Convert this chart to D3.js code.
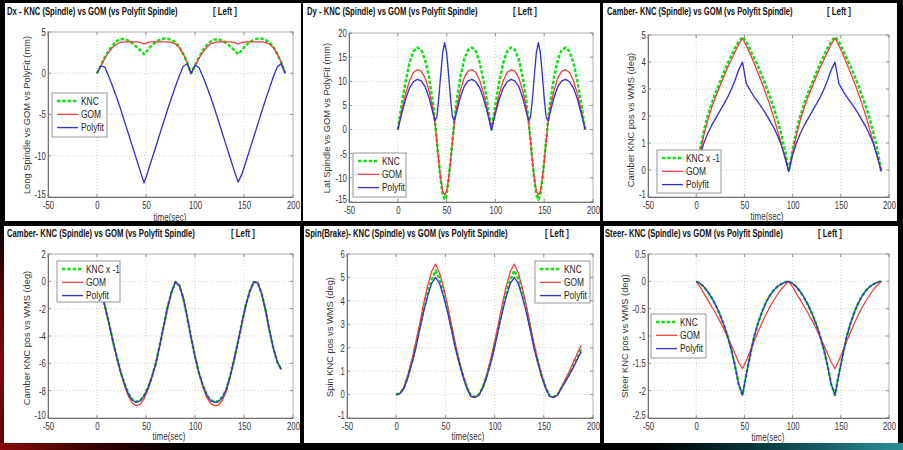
<!DOCTYPE html>
<html><head><meta charset="utf-8">
<script src="https://cdn.jsdelivr.net/npm/d3@7"></script>
<style>body{margin:0;background:#000;overflow:hidden}svg{display:block}</style>
</head><body>
<svg id="c" width="903" height="450"></svg>
<script>
// ---------- DATA ----------
const xTicks = [-50, 0, 50, 100, 150, 200];
const seriesNames = ["KNC", "GOM", "Polyfit"];
const seriesNamesX = ["KNC x -1", "GOM", "Polyfit"];

const time4 = [0,4,8,12,16,20,24,28,32,36,40,44,48,52,56,60,64,68,72,76,80,84,88,92,96,
  100,104,108,112,116,120,124,128,132,136,140,144,148,152,156,160,164,168,172,176,180,184,188,192];
const time188 = [0,4,8,12,16,20,24,28,32,36,40,44,48,52,56,60,64,68,72,76,80,84,88,92,96,
  100,104,108,112,116,120,124,128,132,136,140,144,148,152,156,160,164,168,172,176,180,184,188];
const dyTime = [0,4,8,12,16,20,24,28,32,36,38,40,42,44,46,48,50,52,54,56,58,60,64,68,72,76,80,84,88,92,96,
  100,104,108,112,116,120,124,128,132,134,136,138,140,142,144,146,148,150,152,154,156,160,164,168,172,176,180,184,188,192];

// Dx
const dxYTicks = [-15, -10, -5, 0, 5];
const dxKNC = [0,0.95,1.95,2.75,3.4,3.9,4.15,4.15,3.95,3.65,3.25,2.8,2.3,2.85,3.4,3.8,4.05,4.2,4.2,4.05,3.75,3.2,2.35,1.3,0,
  0.95,1.95,2.75,3.4,3.85,4.1,4.1,3.95,3.65,3.25,2.8,2.3,2.85,3.4,3.8,4.05,4.2,4.2,4.05,3.75,3.2,2.35,1.3,0];
const dxGOM = [0,0.9,1.8,2.55,3.15,3.55,3.75,3.8,3.8,3.8,3.8,3.75,3.55,3.75,3.8,3.8,3.8,3.8,3.8,3.75,3.55,3.1,2.35,1.3,0,
  0.9,1.8,2.55,3.15,3.55,3.75,3.8,3.8,3.8,3.8,3.75,3.55,3.75,3.8,3.8,3.8,3.8,3.8,3.75,3.55,3.1,2.35,1.3,0];
const dxPoly = [0,0.9,0.75,-0.4,-1.6,-2.9,-4.3,-5.8,-7.3,-8.8,-10.3,-11.8,-13.3,-11.9,-10.4,-8.9,-7.4,-5.9,-4.4,-3.0,-1.6,-0.3,0.85,1.15,0,
  0.95,0.7,-0.4,-1.6,-2.9,-4.3,-5.8,-7.3,-8.8,-10.3,-11.8,-13.2,-12.2,-10.7,-9.2,-7.7,-6.2,-4.7,-3.2,-1.8,-0.4,0.8,1.15,0];

// Dy
const dyYTicks = [-15, -10, -5, 0, 5, 10, 15, 20];
const dyKNC = [0,5.2,10,13.8,16.2,17,16.5,14.5,10.8,5.5,1.8,-2.2,-6.5,-10.5,-13.5,-14.5,-13.5,-10.5,-6.5,-2.2,1.8,5.5,10.8,14.5,16.5,17,16.2,13.8,10,5.2,0,
  5.2,10,13.8,16.2,17,16.5,14.5,10.8,5.5,1.8,-2.2,-6.5,-10.5,-13.5,-14.5,-13.5,-10.5,-6.5,-2.2,1.8,5.5,10.8,14.5,16.5,17,16.2,13.8,10,5.2,0];
const dyGOM = [0,3.9,7.4,10.1,11.8,12.4,12.1,10.7,8.0,4.2,1.6,-2.5,-6.8,-10.2,-12.8,-13.5,-12.8,-10.2,-6.8,-2.5,1.6,4.2,8.0,10.7,12.1,12.4,11.8,10.1,7.4,3.9,0,
  3.9,7.4,10.1,11.8,12.4,12.1,10.7,8.0,4.2,1.6,-2.5,-6.8,-10.2,-12.8,-13.5,-12.8,-10.2,-6.8,-2.5,1.6,4.2,8.0,10.7,12.1,12.4,11.8,10.1,7.4,3.9,0];
const dyPoly = [0,3.3,6.3,8.6,9.9,10.4,10.1,8.9,6.6,3.4,1.8,2.6,6.5,11.5,16.0,18.0,16.0,11.5,6.5,2.6,1.8,3.4,6.6,8.9,10.1,10.4,9.9,8.6,6.3,3.3,0,
  3.3,6.3,8.6,9.9,10.4,10.1,8.9,6.6,3.4,1.8,2.6,6.5,11.5,16.0,18.0,16.0,11.5,6.5,2.6,1.8,3.4,6.6,8.9,10.1,10.4,9.9,8.6,6.3,3.3,0];

// Camber (top)
const camYTicks = [-1, 0, 1, 2, 3, 4, 5];
const camKNC = [0,0.75,1.45,2.0,2.45,2.85,3.2,3.55,3.9,4.2,4.5,4.75,4.93,4.75,4.45,4.15,3.85,3.5,3.15,2.75,2.35,1.9,1.35,0.75,-0.05,
  0.75,1.45,2.0,2.45,2.85,3.2,3.55,3.9,4.2,4.5,4.75,4.93,4.75,4.45,4.15,3.85,3.5,3.15,2.75,2.35,1.9,1.35,0.75,-0.05];
const camGOM = [0,0.65,1.3,1.85,2.3,2.7,3.05,3.4,3.75,4.05,4.35,4.65,4.88,4.6,4.3,3.95,3.6,3.25,2.85,2.45,2.0,1.5,1.0,0.45,-0.05,
  0.65,1.3,1.85,2.3,2.7,3.05,3.4,3.75,4.05,4.35,4.65,4.88,4.6,4.3,3.95,3.6,3.25,2.85,2.45,2.0,1.5,1.0,0.45,-0.05];
const camPoly = [0,0.55,1.0,1.35,1.65,1.9,2.15,2.4,2.65,2.95,3.3,3.7,4.0,3.2,2.95,2.72,2.52,2.32,2.1,1.85,1.6,1.3,0.95,0.5,-0.05,
  0.55,1.0,1.35,1.65,1.9,2.15,2.4,2.65,2.95,3.3,3.7,4.0,3.2,2.95,2.72,2.52,2.32,2.1,1.85,1.6,1.3,0.95,0.5,-0.05];

// Camber (bottom)
const cam2YTicks = [-10, -8, -6, -4, -2, 0, 2];
const cam2KNC = [0,-0.7,-1.8,-3.0,-4.3,-5.5,-6.6,-7.5,-8.2,-8.65,-8.8,-8.7,-8.35,-7.8,-7.0,-6.0,-4.7,-3.3,-1.9,-0.8,-0.05,-0.3,-1.2,-2.6,-4.1,
  -5.5,-6.7,-7.6,-8.3,-8.7,-8.8,-8.75,-8.45,-7.9,-6.9,-5.7,-4.4,-3.0,-1.7,-0.7,-0.05,-0.1,-0.9,-2.1,-3.6,-4.9,-5.9,-6.45];
const cam2GOM = [0,-0.7,-1.8,-3.0,-4.3,-5.5,-6.6,-7.6,-8.4,-8.9,-9.1,-9.0,-8.6,-7.95,-7.0,-6.0,-4.7,-3.3,-1.9,-0.8,-0.05,-0.3,-1.2,-2.6,-4.1,
  -5.5,-6.7,-7.7,-8.5,-8.95,-9.1,-9.05,-8.7,-8.05,-6.95,-5.7,-4.4,-3.0,-1.7,-0.7,-0.05,-0.1,-0.9,-2.1,-3.6,-4.9,-5.9,-6.45];
const cam2Poly = [0,-0.7,-1.8,-3.0,-4.3,-5.5,-6.6,-7.5,-8.25,-8.7,-8.85,-8.75,-8.4,-7.8,-7.0,-6.0,-4.7,-3.3,-1.9,-0.8,-0.05,-0.3,-1.2,-2.6,-4.1,
  -5.5,-6.7,-7.6,-8.3,-8.75,-8.85,-8.8,-8.5,-7.9,-6.9,-5.7,-4.4,-3.0,-1.7,-0.7,-0.05,-0.1,-0.9,-2.1,-3.6,-4.9,-5.9,-6.45];

// Spin
const spinYTicks = [-1, 0, 1, 2, 3, 4, 5, 6];
const spinKNC = [0,0.05,0.3,0.8,1.4,2.1,2.9,3.7,4.4,4.9,5.3,4.95,4.4,3.7,2.9,2.1,1.4,0.8,0.3,-0.05,-0.1,0.0,0.3,0.8,1.4,
  2.1,2.9,3.7,4.4,4.9,5.3,4.95,4.4,3.7,2.9,2.1,1.4,0.8,0.3,-0.05,-0.1,0.0,0.3,0.6,0.9,1.25,1.6,1.95];
const spinGOM = [0,0.05,0.32,0.85,1.5,2.25,3.05,3.9,4.65,5.25,5.57,5.2,4.6,3.85,3.0,2.2,1.45,0.82,0.3,-0.08,-0.12,-0.02,0.32,0.85,1.5,
  2.25,3.05,3.9,4.65,5.25,5.57,5.2,4.6,3.85,3.0,2.2,1.45,0.82,0.3,-0.08,-0.12,-0.02,0.32,0.65,1.0,1.38,1.75,2.1];
const spinPoly = [0,0.05,0.28,0.75,1.35,2.0,2.8,3.55,4.2,4.75,5.0,4.75,4.2,3.55,2.8,2.0,1.35,0.75,0.25,-0.08,-0.12,-0.03,0.28,0.75,1.35,
  2.0,2.8,3.55,4.2,4.75,5.0,4.75,4.2,3.55,2.8,2.0,1.35,0.75,0.25,-0.08,-0.12,-0.03,0.28,0.55,0.85,1.15,1.5,1.82];

// Steer
const steerYTicks = [-2.5, -2, -1.5, -1, -0.5, 0, 0.5];
const steerKNC = [0,-0.04,-0.1,-0.19,-0.3,-0.43,-0.58,-0.76,-0.97,-1.22,-1.52,-1.88,-2.08,-1.7,-1.35,-1.02,-0.77,-0.57,-0.4,-0.27,-0.17,-0.1,-0.05,-0.02,0,
  -0.04,-0.1,-0.19,-0.3,-0.43,-0.58,-0.76,-0.97,-1.22,-1.52,-1.88,-2.08,-1.7,-1.35,-1.02,-0.77,-0.57,-0.4,-0.27,-0.17,-0.1,-0.05,-0.02,0];
const steerGOM = [0,-0.1,-0.22,-0.34,-0.46,-0.58,-0.71,-0.85,-1.0,-1.15,-1.31,-1.48,-1.6,-1.45,-1.28,-1.1,-0.93,-0.77,-0.62,-0.48,-0.36,-0.25,-0.15,-0.07,0,
  -0.1,-0.22,-0.34,-0.46,-0.58,-0.71,-0.85,-1.0,-1.15,-1.31,-1.48,-1.6,-1.45,-1.28,-1.1,-0.93,-0.77,-0.62,-0.48,-0.36,-0.25,-0.15,-0.07,0];
const steerPoly = [0,-0.04,-0.1,-0.19,-0.3,-0.43,-0.58,-0.76,-0.97,-1.22,-1.52,-1.88,-2.08,-1.7,-1.35,-1.02,-0.77,-0.57,-0.4,-0.27,-0.17,-0.1,-0.05,-0.02,0,
  -0.04,-0.1,-0.19,-0.3,-0.43,-0.58,-0.76,-0.97,-1.22,-1.52,-1.88,-2.08,-1.7,-1.35,-1.02,-0.77,-0.57,-0.4,-0.27,-0.17,-0.1,-0.05,-0.02,0];

// ---------- LAYOUT ----------
const panels = [
  {id:"a", bg:[5,3,296,218], plot:[48,32,293,197], ydom:[-15,5], yticks:dxYTicks,
   title:"Dx - KNC (Spindle) vs GOM (vs Polyfit Spindle)", tx:[7,178], lx:213, ty:15.5,
   ylab:"Long Spindle vs GOM vs PolyFit (mm)", yl:[27,115], xl:[170,218],
   legend:[52,93,55,44], names:seriesNames, time:time4, data:[dxKNC,dxGOM,dxPoly]},
  {id:"b", bg:[303,3,297,218], plot:[349,33,593,202], ydom:[-15,20], yticks:dyYTicks,
   title:"Dy - KNC (Spindle) vs GOM (vs Polyfit Spindle)", tx:[307,478], lx:513, ty:15.5,
   ylab:"Lat Spindle vs GOM vs PolyFit (mm)", yl:[327,118], xl:null,
   legend:[353,153,53,44], names:seriesNames, time:dyTime, data:[dyKNC,dyGOM,dyPoly]},
  {id:"c", bg:[603,3,294,218], plot:[648,35,889,197], ydom:[-1,5], yticks:camYTicks,
   title:"Camber- KNC (Spindle) vs GOM (vs Polyfit Spindle)", tx:[607,793], lx:827, ty:15.5,
   ylab:"Camber KNC pos vs WMS (deg)", yl:[631,120], xl:[767,217],
   legend:[657,150,64,43], names:seriesNamesX, time:time4, data:[camKNC,camGOM,camPoly]},
  {id:"d", bg:[4,226,296,217], plot:[48,254,293,418], ydom:[-10,2], yticks:cam2YTicks,
   title:"Camber- KNC (Spindle) vs GOM (vs Polyfit Spindle)", tx:[7,195], lx:231, ty:237.5,
   ylab:"Camber KNC pos vs WMS (deg)", yl:[27,338], xl:[169,437],
   legend:[57,261,63,41], names:seriesNamesX, time:time188, data:[cam2KNC,cam2GOM,cam2Poly]},
  {id:"e", bg:[304,226,296,217], plot:[347,254,593,418], ydom:[-1,6], yticks:spinYTicks,
   title:"Spin(Brake)- KNC (Spindle) vs GOM (vs Polyfit Spindle)", tx:[305,508], lx:545, ty:237.5,
   ylab:"Spin KNC pos vs WMS (deg)", yl:[330,337], xl:[468,437],
   legend:[535,261,55,42], names:seriesNames, time:time188, data:[spinKNC,spinGOM,spinPoly]},
  {id:"f", bg:[604,226,294,217], plot:[648,254,889,418], ydom:[-2.5,0.5], yticks:steerYTicks,
   title:"Steer- KNC (Spindle) vs  GOM (vs Polyfit Spindle)", tx:[605,783], lx:818, ty:237.5,
   ylab:"Steer KNC pos vs WMS (deg)", yl:[625,336], xl:[768,438],
   legend:[651,314,55,44], names:seriesNames, time:time4, data:[steerKNC,steerGOM,steerPoly]}
];

const styles = [
  {stroke:"#14e014", width:2.5, dash:"3.5,1.8"},
  {stroke:"#f23a3a", width:1.25, dash:null},
  {stroke:"#3535c6", width:1.35, dash:null}
];
const FONT = "'Liberation Sans', Arial, Helvetica, sans-serif";

// ---------- DRAW ----------
const svg = d3.select("#c").attr("font-family", FONT);
const defs = svg.append("defs");
const gb = defs.append("linearGradient").attr("id","gb").attr("x1",0).attr("x2",1).attr("y1",0).attr("y2",0);
[[0,"#8a0c0c"],[0.1,"#3a0303"],[0.2,"#000"],[0.72,"#000"],[0.86,"#0c4248"],[1,"#2c9096"]]
  .forEach(([o,c]) => gb.append("stop").attr("offset",o).attr("stop-color",c));
const gl = defs.append("linearGradient").attr("id","gl").attr("x1",0).attr("x2",0).attr("y1",0).attr("y2",1);
[[0,"#000"],[0.25,"#4a0606"],[0.6,"#7a0a0a"],[1,"#5a0505"]]
  .forEach(([o,c]) => gl.append("stop").attr("offset",o).attr("stop-color",c));

svg.append("rect").attr("width",903).attr("height",450).attr("fill","#000");
svg.append("rect").attr("x",0).attr("y",226).attr("width",4).attr("height",224).attr("fill","url(#gl)");
svg.append("rect").attr("x",0).attr("y",443).attr("width",903).attr("height",7).attr("fill","url(#gb)");

// text squeezed horizontally: fixed factor (sx) or fitted to a target width (w)
function sText(g, x, y, s, o = {}) {
  const t = g.append("text").attr("x", x).attr("y", y).text(s)
    .attr("font-size", o.size || 10.5)
    .attr("fill", o.fill || "#2a2a2a")
    .attr("text-anchor", o.anchor || "start")
    .attr("font-weight", o.weight || "normal");
  let k = o.sx || 1;
  if (o.w) { const nat = t.node().getComputedTextLength(); if (nat > 0) k = o.w / nat; }
  if (k !== 1) t.attr("transform", `translate(${x},${y}) scale(${k},1) translate(${-x},${-y})`);
  return t;
}

panels.forEach(p => {
  const cid = "clip_" + p.id;
  defs.append("clipPath").attr("id", cid).append("rect")
    .attr("x", p.bg[0]).attr("y", p.bg[1]).attr("width", p.bg[2]).attr("height", p.bg[3]);
  const g = svg.append("g").attr("clip-path", `url(#${cid})`);
  g.append("rect").attr("x", p.bg[0]).attr("y", p.bg[1]).attr("width", p.bg[2]).attr("height", p.bg[3]).attr("fill", "#fff");

  const [L, T, R, B] = p.plot;
  const x = d3.scaleLinear().domain([-50, 200]).range([L, R]);
  const y = d3.scaleLinear().domain(p.ydom).range([B, T]);

  // grid
  g.append("g").selectAll("line").data(xTicks.slice(1, -1)).join("line")
    .attr("x1", d => x(d)).attr("x2", d => x(d)).attr("y1", T).attr("y2", B)
    .attr("stroke", "#c4c4c4").attr("stroke-width", 0.8).attr("stroke-dasharray", "1,2");
  g.append("g").selectAll("line").data(p.yticks.slice(1, -1)).join("line")
    .attr("y1", d => y(d)).attr("y2", d => y(d)).attr("x1", L).attr("x2", R)
    .attr("stroke", "#c4c4c4").attr("stroke-width", 0.8).attr("stroke-dasharray", "1,2");

  // box
  g.append("rect").attr("x", L).attr("y", T).attr("width", R - L).attr("height", B - T)
    .attr("fill", "none").attr("stroke", "#b0b0b0").attr("stroke-width", 1);

  // inward ticks
  const tk = g.append("g").attr("stroke", "#777").attr("stroke-width", 0.8);
  xTicks.forEach(v => {
    tk.append("line").attr("x1", x(v)).attr("x2", x(v)).attr("y1", B).attr("y2", B - 3);
    tk.append("line").attr("x1", x(v)).attr("x2", x(v)).attr("y1", T).attr("y2", T + 3);
  });
  p.yticks.forEach(v => {
    tk.append("line").attr("y1", y(v)).attr("y2", y(v)).attr("x1", L).attr("x2", L + 3);
    tk.append("line").attr("y1", y(v)).attr("y2", y(v)).attr("x1", R).attr("x2", R - 3);
  });

  // axes
  const ax = g.append("g").attr("transform", `translate(0,${B})`)
    .call(d3.axisBottom(x).tickValues(xTicks).tickSize(0).tickPadding(5).tickFormat(d => String(d)));
  const ay = g.append("g").attr("transform", `translate(${L},0)`)
    .call(d3.axisLeft(y).tickValues(p.yticks).tickSize(0).tickPadding(3).tickFormat(d => String(d)));
  [ax, ay].forEach(a => {
    a.attr("font-family", FONT).attr("font-size", 10.5);
    a.select(".domain").attr("stroke", "#707070").attr("stroke-width", 1);
    a.selectAll("text").attr("fill", "#333").attr("transform", "scale(0.74,1)");
  });
  // lowest y label sits just above the corner x label (as in the reference)
  ay.selectAll("text").filter(d => d === p.yticks[0]).attr("y", -2.5);

  // series
  const line = d3.line().x((d, i) => x(p.time[i])).y(d => y(d));
  p.data.forEach((arr, i) => {
    const s = styles[i];
    g.append("path").datum(arr).attr("d", line).attr("fill", "none")
      .attr("stroke", s.stroke).attr("stroke-width", s.width)
      .attr("stroke-dasharray", s.dash).attr("stroke-linejoin", "round");
  });

  // legend
  const [lx, ly, lw, lh] = p.legend;
  g.append("rect").attr("x", lx).attr("y", ly).attr("width", lw).attr("height", lh)
    .attr("fill", "#fff").attr("stroke", "#8a8a8a").attr("stroke-width", 0.9);
  p.names.forEach((nm, i) => {
    const yy = ly + 8 + i * 13.3;
    const s = styles[i];
    g.append("line").attr("x1", lx + 5).attr("x2", lx + 26).attr("y1", yy).attr("y2", yy)
      .attr("stroke", s.stroke).attr("stroke-width", s.width).attr("stroke-dasharray", s.dash);
    sText(g, lx + 29, yy + 3.6, nm, {size: 10.5, sx: 0.8, fill: "#222"});
  });

  // titles
  sText(g, p.tx[0], p.ty, p.title, {size: 10.5, weight: "bold", fill: "#111", w: p.tx[1] - p.tx[0]});
  sText(g, p.lx, p.ty, "[ Left ]", {size: 10.5, weight: "bold", fill: "#111", w: 24});

  // axis labels
  g.append("text").attr("transform", `translate(${p.yl[0]},${p.yl[1]}) rotate(-90)`)
    .attr("text-anchor", "middle").attr("dominant-baseline", "central")
    .attr("font-size", 9.3).attr("fill", "#333").text(p.ylab);
  if (p.xl) sText(g, p.xl[0], p.xl[1] + 3.5, "time(sec)", {size: 10.5, sx: 0.76, anchor: "middle", fill: "#333"});
});
</script>
</body></html>
